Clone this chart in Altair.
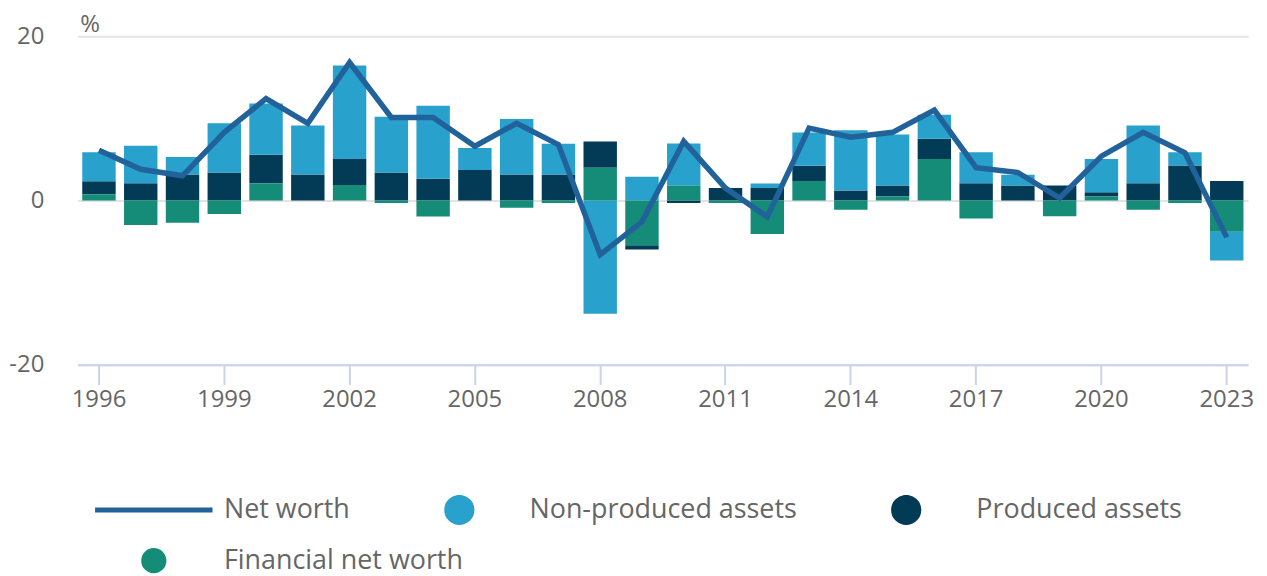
import altair as alt
import pandas as pd

years = list(range(1996, 2024))

non_produced = [3.53, 4.58, 2.13, 5.99, 6.22, 5.95, 11.37, 6.79, 8.88, 2.69,
                6.75, 3.73, -13.8, 2.89, 5.14, 0.0, 0.52, 4.05, 7.35, 6.22,
                2.93, 3.77, 1.32, 0.0, 4.06, 7.03, 1.6, -3.5]
produced = [1.57, 2.09, 3.17, 3.41, 3.49, 3.17, 3.17, 3.41, 2.65, 3.7,
            3.17, 3.17, 3.21, -0.52, -0.32, 1.53, 1.53, 1.85, 1.2, 1.33,
            2.45, 2.09, 1.81, 1.81, 0.52, 2.09, 4.26, 2.37]
financial = [0.76, -3.0, -2.73, -1.65, 2.09, 0.0, 1.89, -0.32, -1.97, 0.0,
             -0.88, -0.32, 3.98, -5.46, 1.81, -0.32, -4.1, 2.37, -1.12, 0.48,
             5.06, -2.21, 0.0, -1.93, 0.48, -1.12, -0.32, -3.8]
net_worth = [6.1, 3.8, 3.0, 8.3, 12.4, 9.4, 16.8, 10.1, 10.1, 6.6,
             9.4, 6.8, -6.6, -2.6, 7.2, 1.5, -2.0, 8.8, 7.7, 8.3,
             11.0, 4.0, 3.4, 0.3, 5.4, 8.3, 5.8, -4.5]

series_names = ["Net worth", "Non-produced assets", "Produced assets", "Financial net worth"]
series_colors = ["#22629b", "#29a1cd", "#033b57", "#148c78"]
tick_years = [1996, 1999, 2002, 2005, 2008, 2011, 2014, 2017, 2020, 2023]

rows = []
for i, yr in enumerate(years):
    rows.append({"year": yr, "series": series_names[3], "value": financial[i], "ord": 1})
    rows.append({"year": yr, "series": series_names[2], "value": produced[i], "ord": 2})
    rows.append({"year": yr, "series": series_names[1], "value": non_produced[i], "ord": 3})
bar_df = pd.DataFrame(rows)
line_df = pd.DataFrame({"year": years, "series": [series_names[0]] * len(years), "value": net_worth})

# two colour scales -> two legends (row 1 and row 2)
color_scale = alt.Scale(domain=series_names[:3], range=series_colors[:3])
fill_scale = alt.Scale(domain=series_names[3:], range=series_colors[3:])

is_line = "datum.value === '%s'" % series_names[0]
fill_expr = "%s ? 'transparent' : scale('color', datum.value)" % is_line
stroke_expr = "%s ? scale('color', datum.value) : 'transparent'" % is_line

legend_common = dict(
    title=None,
    orient="none",
    direction="horizontal",
    legendX=17,
    columnPadding=50,
    clipHeight=30,
    labelFontSize=27,
    labelColor="#666666",
    labelFont="Open Sans",
    labelOffset=55,
    labelLimit=500,
    padding=0,
    symbolOffset=44,
    symbolStrokeWidth=5,
    symbolOpacity=1,
)

legend1 = alt.Legend(
    legendY=461,
    columns=3,
    symbolType=alt.ExprRef("%s ? 'stroke' : 'circle'" % is_line),
    symbolSize=alt.ExprRef("%s ? 13924 : 640" % is_line),
    symbolFillColor=alt.ExprRef(fill_expr),
    symbolStrokeColor=alt.ExprRef(stroke_expr),
    **legend_common,
)

legend2 = alt.Legend(
    legendY=512,
    columns=1,
    symbolType="circle",
    symbolSize=640,
    symbolStrokeColor="transparent",
    **legend_common,
)

x_axis = alt.Axis(
    title=None,
    values=tick_years,
    labelAngle=0,
    labelFontSize=24,
    labelColor="#666666",
    labelPadding=3,
    tickColor="#c9d3ec",
    tickSize=20,
    tickWidth=2,
    domainColor="#c9d3ec",
    domainWidth=2,
    grid=False,
)
x_scale = alt.Scale(paddingInner=0.2, paddingOuter=0.11)

y_axis = alt.Axis(
    title="%",
    titleAngle=0,
    titleX=2,
    titleY=-5,
    titleAlign="left",
    titleBaseline="alphabetic",
    titleFontSize=24,
    titleFontWeight="normal",
    titleColor="#666666",
    titleFont="Open Sans",
    values=[-20, 0, 20],
    labelExpr="toString(datum.value)",
    labelFontSize=24,
    labelColor="#666666",
    labelPadding=34,
    ticks=False,
    domain=False,
    gridColor="#e3e3e3",
    gridWidth=2,
)
y_scale = alt.Scale(domain=[-20, 20], nice=False)

stacked = alt.Chart(bar_df).transform_stack(
    stack="value",
    as_=["y0", "y1"],
    groupby=["year"],
    sort=[alt.SortField("ord", order="ascending")],
    offset="zero",
)

assets = stacked.transform_filter(
    alt.FieldOneOfPredicate(field="series", oneOf=series_names[1:3])
).mark_bar().encode(
    x=alt.X("year:O", scale=x_scale, axis=x_axis),
    y=alt.Y("y0:Q", scale=y_scale, axis=y_axis),
    y2="y1:Q",
    color=alt.Color("series:N", scale=color_scale, legend=legend1),
)

fin = stacked.transform_filter(
    alt.FieldEqualPredicate(field="series", equal=series_names[3])
).mark_bar().encode(
    x=alt.X("year:O", scale=x_scale, axis=x_axis),
    y=alt.Y("y0:Q", scale=y_scale, axis=y_axis),
    y2="y1:Q",
    fill=alt.Fill("series:N", scale=fill_scale, legend=legend2),
)

line = alt.Chart(line_df).mark_line(strokeWidth=5.5).encode(
    x=alt.X("year:O", scale=x_scale, axis=x_axis),
    y=alt.Y("value:Q", scale=y_scale, axis=y_axis),
    color=alt.Color("series:N", scale=color_scale, legend=legend1),
)

chart = alt.layer(assets, fin, line).properties(
    width=1176,
    height=330,
    padding={"left": 0, "top": 3, "right": 5, "bottom": 0},
).configure(
    font="Open Sans",
).configure_view(
    stroke=None,
)

chart.save("out.html", embed_options={"renderer": "svg", "actions": False})
